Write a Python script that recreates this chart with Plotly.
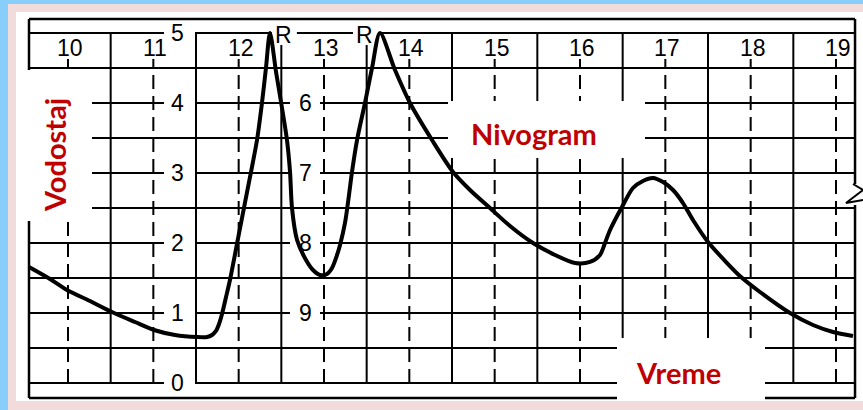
import plotly.graph_objects as go

# ---------------- data ----------------
hours = [10, 11, 12, 13, 14, 15, 16, 17, 18, 19]
hour_labels = ["10", "11", "12", "13", "14", "15", "16", "17", "18", "19"]
half_hours = [10.5, 11.5, 12.5, 13.5, 14.5, 15.5, 16.5, 17.5, 18.5]
levels = [0, 1, 2, 3, 4, 5]
level_labels = ["0", "1", "2", "3", "4", "5"]
level_lines = [0, 0.5, 1, 1.5, 2, 2.5, 3, 3.5, 4, 4.5, 5]
scale2_labels = ["6", "7", "8", "9"]
scale2_levels = [4, 3, 2, 1]
reset_labels = ["R", "R"]
reset_hours = [12.53, 13.48]

curve_t = [9.543, 9.789, 9.988, 10.258, 10.516, 10.785, 11.008, 11.254, 11.512, 11.629,
           11.688, 11.734, 11.770, 11.805, 11.852, 11.898, 12.016, 12.133, 12.215, 12.273,
           12.320, 12.367, 12.438, 12.508, 12.566, 12.602, 12.625, 12.684, 12.789, 12.871,
           12.953, 13.035, 13.094, 13.141, 13.188, 13.246, 13.293, 13.328, 13.387, 13.480,
           13.563, 13.656, 13.832, 14.008, 14.266, 14.512, 14.711, 14.945, 15.180, 15.449,
           15.707, 15.941, 16.117, 16.234, 16.293, 16.352, 16.492, 16.621, 16.738, 16.855,
           16.973, 17.090, 17.207, 17.324, 17.500, 17.723, 17.887, 18.109, 18.461, 18.730,
           18.965, 19.199]
curve_level = [1.657, 1.486, 1.329, 1.171, 1.014, 0.871, 0.757, 0.686, 0.657, 0.657,
               0.686, 0.743, 0.843, 0.986, 1.229, 1.471, 2.214, 2.943, 3.471, 4.0,
               4.5, 5.0, 4.443, 3.929, 3.471, 3.014, 2.5, 2.043, 1.757, 1.614,
               1.543, 1.557, 1.643, 1.786, 1.971, 2.286, 2.686, 3.014, 3.471, 4.0,
               4.5, 5.0, 4.471, 4.0, 3.471, 3.014, 2.757, 2.5, 2.243, 2.0,
               1.829, 1.714, 1.729, 1.829, 2.0, 2.186, 2.514, 2.786, 2.886, 2.929,
               2.871, 2.757, 2.571, 2.329, 2.014, 1.714, 1.514, 1.3, 1.0, 0.829,
               0.729, 0.671]

# ---------------- layout geometry ----------------
W, H = 863, 410
X0, X1 = 9.2031, 19.3164
Y0, Y1 = -0.3857, 5.4714
FL, FR, FT, FB = 9.543, 19.223, 5.2, -0.214


def hx(px):
    return X0 + px * (X1 - X0) / W


def vy(py):
    return Y1 - py * (Y1 - Y0) / H


BLACK = "#000000"
RED = "#C00000"
shapes = []

# page background (paper)
PINK = "#F2DCDB"
BLUE = "#87CEFA"
for (a, b, c, d, col) in [(0, 863, 0, 4, BLUE), (0, 8, 0, 410, BLUE), (16, 863, 12, 401, "white")]:
    shapes.append(dict(type="rect", xref="paper", yref="paper", x0=a / W, x1=b / W,
                       y0=1 - d / H, y1=1 - c / H, fillcolor=col, line_width=0, layer="below"))


def line(x0, y0, x1, y1, w=2.0, dash=None):
    d = dict(type="line", xref="x", yref="y", x0=x0, y0=y0, x1=x1, y1=y1,
             line=dict(color=BLACK, width=w), layer="below")
    if dash:
        d["line"]["dash"] = dash
    shapes.append(d)


# horizontal grid lines
for lv in level_lines:
    line(FL, lv, FR, lv, 2)
# frame
line(FL, FT, FR, FT, 2.5)
line(FL, FB, FR, FB, 2.5)
line(FL, FB, FL, FT, 2.5)
line(FR, FT, FR, vy(184), 2.5)
line(FR, vy(205), FR, FB, 2.5)
# break mark on the right frame
zz = [(853, 184), (863, 190), (846, 203), (863, 200)]
path = "M " + " L ".join(f"{hx(a):.4f},{vy(b):.4f}" for a, b in zz)
shapes.append(dict(type="path", xref="x", yref="y", path=path,
                   line=dict(color=BLACK, width=2), layer="below"))
# solid half-hour verticals
for hh in half_hours:
    top = 4.83 if hh in (12.5, 13.5) else 5
    line(hh, 0, hh, top, 2)
# dashed hour verticals
for h in hours:
    line(h, 0, h, 4.63, 2, dash="14px,7px")


def white_box(a, b, c, d):
    shapes.append(dict(type="rect", xref="x", yref="y", x0=hx(a), x1=hx(b),
                       y0=vy(d), y1=vy(c), fillcolor="white", line_width=0, layer="below"))


# boxes behind the red captions
white_box(16, 92, 70, 221)
white_box(448, 645, 101, 158)
white_box(617, 765, 338, 401)

# gaps behind scale labels
ann = []
lab_font = dict(family="Liberation Sans, Arial, sans-serif", size=23, color=BLACK)
for lv, t in zip(levels, level_labels):
    py = 383 - lv * 70
    white_box(164, 195, py - 10, py + 10)
    ann.append(dict(x=hx(177), y=lv, text=t, showarrow=False, font=lab_font,
                    xanchor="center", yanchor="middle"))
for lv, t in zip(scale2_levels, scale2_labels):
    py = 383 - lv * 70
    white_box(290, 320, py - 10, py + 10)
    ann.append(dict(x=hx(305), y=lv, text=t, showarrow=False, font=lab_font,
                    xanchor="center", yanchor="middle"))
for hh, t in zip(reset_hours, reset_labels):
    cx = (hh - X0) * W / (X1 - X0)
    white_box(cx - 12, cx + 13, 22, 45)
    ann.append(dict(x=hh, y=vy(35), text=t, showarrow=False, font=lab_font,
                    xanchor="center", yanchor="middle"))
for h, t in zip(hours, hour_labels):
    ann.append(dict(x=h, y=vy(48), text=t, showarrow=False, font=lab_font,
                    xanchor="center", yanchor="middle", xshift=2))

cap_font = dict(family="Lato, Open Sans, sans-serif", size=29, color=RED, weight="bold")
ann.append(dict(x=hx(54), y=vy(155), text="<b>Vodostaj</b>", textangle=-90, showarrow=False,
                font=cap_font, xanchor="center", yanchor="middle"))
ann.append(dict(x=hx(534), y=vy(133), text="<b>Nivogram</b>", showarrow=False,
                font=cap_font, xanchor="center", yanchor="middle"))
ann.append(dict(x=hx(678), y=vy(372), text="<b>Vreme</b>", showarrow=False,
                font=cap_font, xanchor="center", yanchor="middle"))

fig = go.Figure()
fig.add_trace(go.Scatter(x=curve_t, y=curve_level, mode="lines",
                         line=dict(color=BLACK, width=4, shape="spline", smoothing=0.8),
                         hoverinfo="skip", showlegend=False))

fig.update_layout(
    width=W, height=H, margin=dict(l=0, r=0, t=0, b=0, pad=0),
    paper_bgcolor=PINK, plot_bgcolor="rgba(0,0,0,0)",
    xaxis=dict(range=[X0, X1], visible=False, showgrid=False, zeroline=False, fixedrange=True),
    yaxis=dict(range=[Y0, Y1], visible=False, showgrid=False, zeroline=False, fixedrange=True),
    shapes=shapes, annotations=ann, showlegend=False,
)

fig.write_html("out.html", config={"displayModeBar": False},
               post_script="document.body.style.margin='0';document.body.style.overflow='hidden';")
